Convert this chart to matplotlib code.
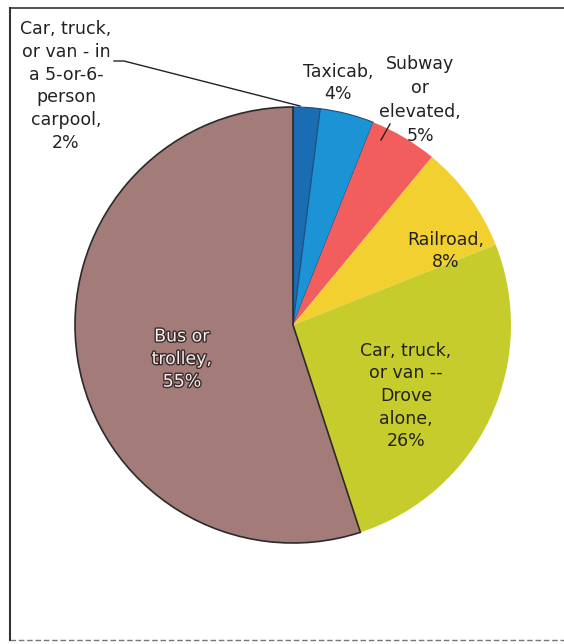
import matplotlib
matplotlib.use('Agg')
from matplotlib import pyplot as plt
import matplotlib.patheffects as pe

# commute mode shares, clockwise from 12 o'clock
modes = ['Car, truck,\nor van - in\na 5-or-6-\nperson\ncarpool,\n2%',
         'Taxicab,\n4%',
         'Subway\nor\nelevated,\n5%',
         'Railroad,\n8%',
         'Car, truck,\nor van --\nDrove\nalone,\n26%',
         'Bus or\ntrolley,\n55%']
shares = [2, 4, 5, 8, 26, 55]
colors = ['#1a6db3', '#1b93d4', '#f25e5e', '#f1d030', '#c6cc2c', '#a37b79']

W, H = 564, 644
fig = plt.figure(figsize=(W / 100, H / 100), dpi=100)
ax = fig.add_axes([0, 0, 1, 1])

cx, cy, r = 293, H - 325, 218
wedges, _ = ax.pie(shares, colors=colors, startangle=90, counterclock=False,
                   center=(cx, cy), radius=r, frame=True,
                   wedgeprops=dict(linewidth=0))
ax.set_xlim(0, W)
ax.set_ylim(0, H)
ax.set_aspect('equal')
ax.axis('off')
wedges[-1].set_edgecolor('#2a2a2a')
wedges[-1].set_linewidth(1.2)
for w in wedges[:2]:
    w.set_edgecolor('#1c4f80')
    w.set_linewidth(0.8)

font = dict(fontsize=12.5, ha='center', va='center', color='#222222',
            linespacing=1.33, family='DejaVu Sans')

# label centres in pixel coords (from top)
ax.text(66, H - 86, modes[0], **font)
ax.text(338, H - 83, modes[1], **font)
ax.text(420, H - 100, modes[2], **dict(font, linespacing=1.45))
ax.text(446, H - 251, modes[3], **font)
ax.text(406, H - 396, modes[4], **font)
ax.text(182, H - 359, modes[5], **dict(font, color='#f4eeee'),
        path_effects=[pe.withStroke(linewidth=2, foreground='#3a2a2a')])

# leader lines
ax.plot([114, 124, 300], [H - 61, H - 61, H - 106], color='#222222', lw=1)
ax.plot([390, 381], [H - 124, H - 140], color='#222222', lw=1)

# scan frame
ax.plot([10, 10], [H - 8, H - 640], color='#333333', lw=1.5)
ax.plot([10, W], [H - 8, H - 8], color='#333333', lw=1.2)
ax.plot([10, W], [H - 640, H - 640], color='#777777', lw=1, ls=(0, (4, 2)))

fig.savefig('out.png', dpi=100)
